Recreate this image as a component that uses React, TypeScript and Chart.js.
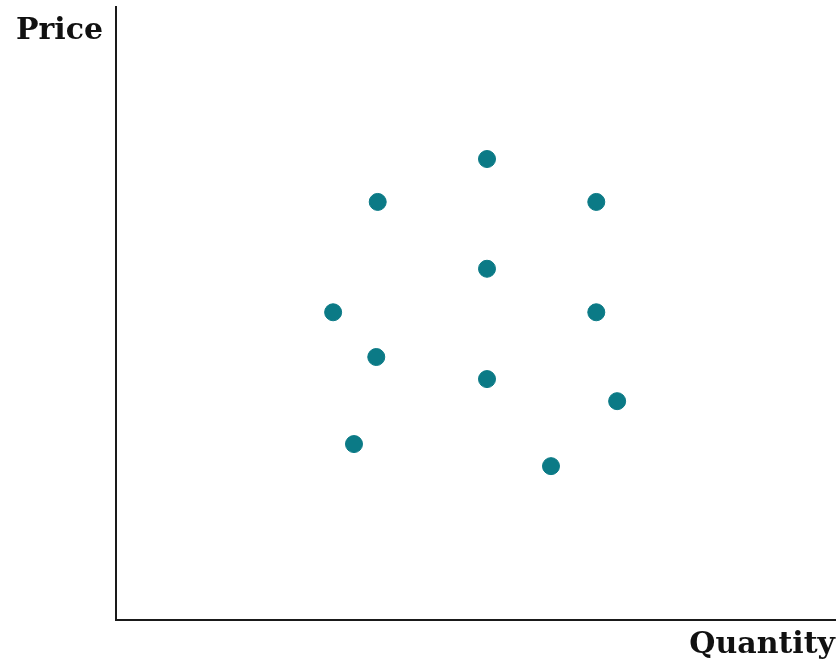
import React, { useEffect, useRef } from "react";
import { Chart, registerables } from "chart.js";

Chart.register(...registerables);

const quantity = [5.16, 3.64, 6.68, 5.16, 3.02, 6.68, 3.62, 5.16, 6.97, 3.31, 6.05];
const price = [7.52, 6.82, 6.82, 5.73, 5.02, 5.02, 4.29, 3.93, 3.57, 2.87, 2.51];
const xTitle = "Quantity";
const yTitle = "Price";

const labelPlugin = {
  id: "axisLabels",
  afterDraw(chart: any) {
    const { ctx, chartArea } = chart;
    ctx.save();
    ctx.fillStyle = "#111";
    ctx.font = "bold 30px 'DejaVu Serif'";
    ctx.textBaseline = "alphabetic";
    ctx.textAlign = "right";
    ctx.fillText(yTitle, chartArea.left - 13, 39);
    ctx.fillText(xTitle, chartArea.right, 653);
    ctx.restore();
  },
};

export default function App() {
  const ref = useRef<HTMLCanvasElement>(null);
  useEffect(() => {
    document.body.style.margin = "0";
    const chart = new Chart(ref.current!, {
      type: "scatter",
      data: {
        datasets: [
          {
            data: quantity.map((q, i) => ({ x: q, y: price[i] })),
            backgroundColor: "#0b7a86",
            borderColor: "#0b7a86",
            pointRadius: 8.5,
            pointHoverRadius: 8.5,
            clip: false,
          },
        ],
      },
      options: {
        animation: false,
        responsive: false,
        maintainAspectRatio: false,
        layout: { autoPadding: false, padding: { left: 116, right: 3, top: 7, bottom: 42 } },
        plugins: { legend: { display: false }, tooltip: { enabled: false } },
        scales: {
          x: {
            type: "linear",
            min: 0,
            max: 10,
            grid: { display: false, drawTicks: false, tickLength: 0 },
            ticks: { display: false, padding: 0 },
            border: { display: true, color: "#1a1a1a", width: 2 },
          },
          y: {
            type: "linear",
            min: 0,
            max: 10,
            grid: { display: false, drawTicks: false, tickLength: 0 },
            ticks: { display: false, padding: 0 },
            border: { display: true, color: "#1a1a1a", width: 2 },
          },
        },
      },
      plugins: [labelPlugin],
    });
    return () => chart.destroy();
  }, []);
  return (
    <div style={{ position: "absolute", left: 0, top: 0, width: 838, height: 662, background: "#fff" }}>
      <canvas ref={ref} width={838} height={662} />
    </div>
  );
}
